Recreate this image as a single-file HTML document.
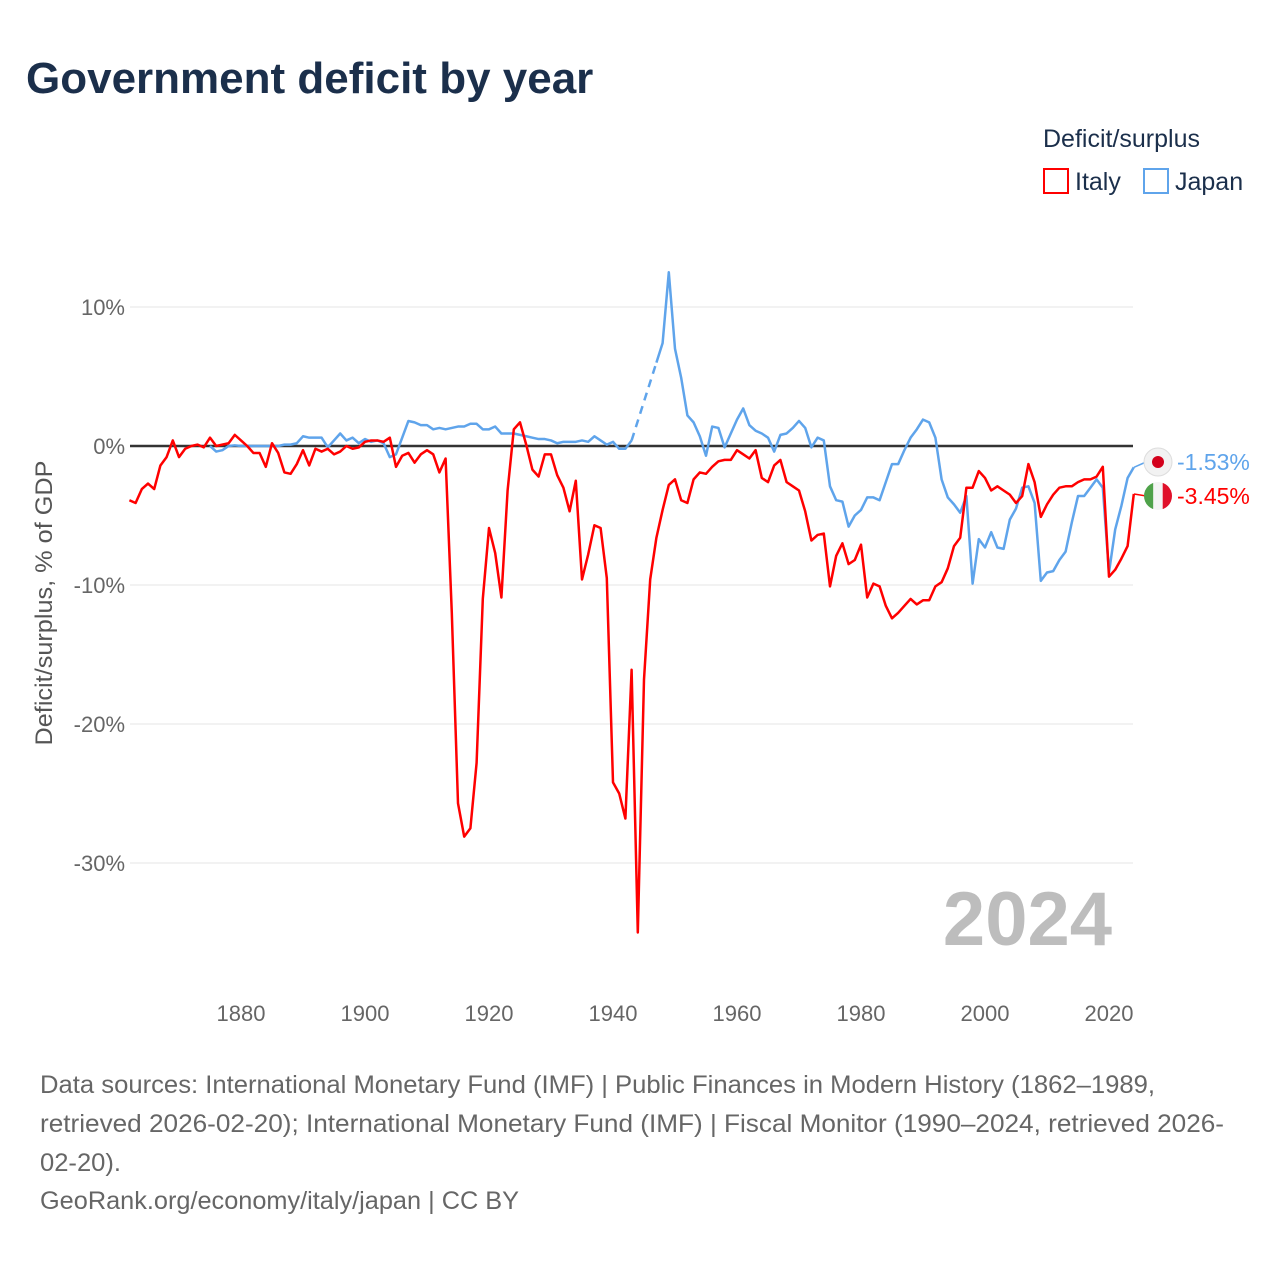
<!DOCTYPE html>
<html><head><meta charset="utf-8"><style>
body{margin:0;background:#fff;font-family:"Liberation Sans",sans-serif;}
#wrap{position:relative;width:1280px;height:1280px;overflow:hidden;}
</style></head><body>
<div id="wrap">
<svg id="chart" width="1280" height="1280" xmlns="http://www.w3.org/2000/svg">
<text x="26" y="93" font-size="44" font-weight="bold" fill="#1b2f4b">Government deficit by year</text>
<text x="1043" y="147" font-size="25" fill="#1b2f4b">Deficit/surplus</text>
<g><rect x="1044" y="169" width="24" height="24" fill="none" stroke="#ff0000" stroke-width="2"/><text x="1075" y="190" font-size="25" fill="#1b2f4b">Italy</text></g>
<g><rect x="1144" y="169" width="24" height="24" fill="none" stroke="#5fa4eb" stroke-width="2"/><text x="1175" y="190" font-size="25" fill="#1b2f4b">Japan</text></g>
<text x="-603" y="52" transform="rotate(-90)" font-size="24" fill="#555" text-anchor="middle" textLength="285" lengthAdjust="spacingAndGlyphs">Deficit/surplus, % of GDP</text>
<g id="grid"></g><g id="series"></g>
<text x="1112" y="945" font-size="76" font-weight="bold" fill="#bdbdbd" text-anchor="end">2024</text>
<g font-size="25" fill="#666">
<text x="40" y="1093" textLength="1115" lengthAdjust="spacingAndGlyphs">Data sources: International Monetary Fund (IMF) | Public Finances in Modern History (1862–1989,</text>
<text x="40" y="1132" textLength="1184" lengthAdjust="spacingAndGlyphs">retrieved 2026-02-20); International Monetary Fund (IMF) | Fiscal Monitor (1990–2024, retrieved 2026-</text>
<text x="40" y="1171" textLength="81" lengthAdjust="spacingAndGlyphs">02-20).</text>
<text x="40" y="1209" textLength="479" lengthAdjust="spacingAndGlyphs">GeoRank.org/economy/italy/japan | CC BY</text>
</g>
</svg>
<script>
const yTicks=[10,0,-10,-20,-30];
const xTicks=[1880,1900,1920,1940,1960,1980,2000,2020];
const italyStart=1862;
const italy=[-3.9,-4.1,-3.1,-2.7,-3.1,-1.4,-0.8,0.4,-0.8,-0.2,0,0.1,-0.1,0.6,0,0.1,0.2,0.8,0.4,0,-0.5,-0.5,-1.5,0.2,-0.5,-1.9,-2.0,-1.3,-0.3,-1.4,-0.2,-0.4,-0.2,-0.6,-0.4,0,-0.2,-0.1,0.3,0.4,0.4,0.3,0.6,-1.5,-0.7,-0.5,-1.2,-0.6,-0.3,-0.6,-1.9,-0.9,-12,-25.7,-28.1,-27.5,-22.8,-11,-5.9,-7.7,-10.9,-3.2,1.2,1.7,0.1,-1.7,-2.2,-0.6,-0.6,-2.1,-3.0,-4.7,-2.5,-9.6,-7.8,-5.7,-5.9,-9.5,-24.2,-25,-26.8,-16.1,-35,-16.8,-9.6,-6.6,-4.6,-2.8,-2.4,-3.9,-4.1,-2.4,-1.9,-2.0,-1.5,-1.1,-1.0,-1.0,-0.3,-0.6,-0.9,-0.3,-2.3,-2.6,-1.4,-1.0,-2.6,-2.9,-3.2,-4.7,-6.8,-6.4,-6.3,-10.1,-7.9,-7.0,-8.5,-8.2,-7.1,-10.9,-9.9,-10.1,-11.5,-12.4,-12.0,-11.5,-11.0,-11.4,-11.1,-11.1,-10.1,-9.8,-8.8,-7.2,-6.6,-3.0,-3.0,-1.8,-2.3,-3.2,-2.9,-3.2,-3.5,-4.1,-3.6,-1.3,-2.6,-5.1,-4.2,-3.5,-3.0,-2.9,-2.9,-2.6,-2.4,-2.4,-2.2,-1.5,-9.4,-8.9,-8.1,-7.2,-3.45];
const japanStart=1875;
const japan=[0,-0.4,-0.3,0,0.05,0,0,0,0,0,0,0,0.1,0.1,0.2,0.7,0.6,0.6,0.6,-0.1,0.4,0.9,0.4,0.6,0.2,0.5,0.3,0.4,0.2,-0.8,-0.6,0.6,1.8,1.7,1.5,1.5,1.2,1.3,1.2,1.3,1.4,1.4,1.6,1.6,1.2,1.2,1.4,0.9,0.9,0.9,0.8,0.7,0.6,0.5,0.5,0.4,0.2,0.3,0.3,0.3,0.4,0.3,0.7,0.4,0.1,0.3,-0.2,-0.2,0.4,null,null,null,6.0,7.4,12.5,7.0,4.9,2.2,1.7,0.7,-0.7,1.4,1.3,-0.1,0.9,1.9,2.7,1.5,1.1,0.9,0.6,-0.4,0.8,0.9,1.3,1.8,1.3,-0.1,0.6,0.4,-2.9,-3.9,-4.0,-5.8,-5.0,-4.6,-3.7,-3.7,-3.9,-2.6,-1.3,-1.3,-0.3,0.6,1.2,1.9,1.7,0.6,-2.4,-3.7,-4.2,-4.8,-3.6,-9.9,-6.7,-7.3,-6.2,-7.3,-7.4,-5.3,-4.5,-3.0,-2.9,-4.1,-9.7,-9.1,-9.0,-8.2,-7.6,-5.5,-3.6,-3.6,-3.0,-2.4,-3.0,-9.1,-6.0,-4.3,-2.3,-1.53];
const NS='http://www.w3.org/2000/svg';
const X=y=>241+(y-1880)*6.2;
const Y=v=>446-v*13.9;
function mk(t,a){const e=document.createElementNS(NS,t);for(const k in a)e.setAttribute(k,a[k]);return e;}
const grid=document.getElementById('grid'),ser=document.getElementById('series');
yTicks.forEach(v=>{
 const l=mk('line',{x1:130,x2:1133,y1:Y(v),y2:Y(v),stroke:v===0?'#333':'#e6e6e6','stroke-width':v===0?2.5:1});
 
 
 grid.appendChild(l);
 const t=mk('text',{x:125,y:Y(v)+8,'font-size':22,fill:'#666','text-anchor':'end'});
 t.textContent=v+'%';
 
 
 grid.appendChild(t);
});
xTicks.forEach(v=>{
 const t=mk('text',{x:X(v),y:1021,'font-size':22,fill:'#666','text-anchor':'middle'});
 t.textContent=v;
 
 
 grid.appendChild(t);
});
function draw(arr,start,color,name){
 let seg=[],last=null;
 const flush=()=>{if(seg.length>1){const p=mk('polyline',{points:seg.join(' '),fill:'none',stroke:color,'stroke-width':2.5,'stroke-linejoin':'round'});
 
 
 ser.appendChild(p);}seg=[];};
 arr.forEach((v,i)=>{
  const yr=start+i;
  if(v===null){if(seg.length)flush();return;}
  if(seg.length===0&&last&&last.i<i-1){
   const d=mk('line',{x1:X(start+last.i),y1:Y(last.v),x2:X(yr),y2:Y(v),stroke:color,'stroke-width':2.5,'stroke-dasharray':'8 6'});
   
   
   ser.appendChild(d);
  }
  seg.push(X(yr)+','+Y(v));last={i,v};
 });
 flush();
 return last;
}
const lj=draw(japan,japanStart,'#5fa4eb','japan');
const li=draw(italy,italyStart,'#ff0000','italy');
function endLabel(v,color,name,ly,flag){
 const c=mk('line',{x1:1134,x2:1146,y1:Y(v),y2:ly,stroke:color,'stroke-width':1.5});
 
 
 ser.appendChild(c);
 const g=mk('g',{});
 
 
 if(flag==='jp'){g.appendChild(mk('circle',{cx:1158,cy:ly,r:14,fill:'#f2f2f2',stroke:'#ddd'}));g.appendChild(mk('circle',{cx:1158,cy:ly,r:6,fill:'#d3001b'}));}
 else{g.appendChild(mk('clipPath',{id:'cf'})).appendChild(mk('circle',{cx:1158,cy:ly,r:14}));
  g.appendChild(mk('rect',{x:1144,y:ly-14,width:9.3,height:28,fill:'#4fa24a','clip-path':'url(#cf)'}));
  g.appendChild(mk('rect',{x:1153.3,y:ly-14,width:9.4,height:28,fill:'#f4f4f4','clip-path':'url(#cf)'}));
  g.appendChild(mk('rect',{x:1162.7,y:ly-14,width:9.3,height:28,fill:'#e0102a','clip-path':'url(#cf)'}));}
 ser.appendChild(g);
 const t=mk('text',{x:1177,y:ly+8,'font-size':23,fill:color});
 t.textContent=v.toFixed(2)+'%';
 
 
 ser.appendChild(t);
}
endLabel(lj.v,'#5fa4eb','japan',462,'jp');
endLabel(li.v,'#ff0000','italy',496,'it');
</script>
</div>
</body></html>
